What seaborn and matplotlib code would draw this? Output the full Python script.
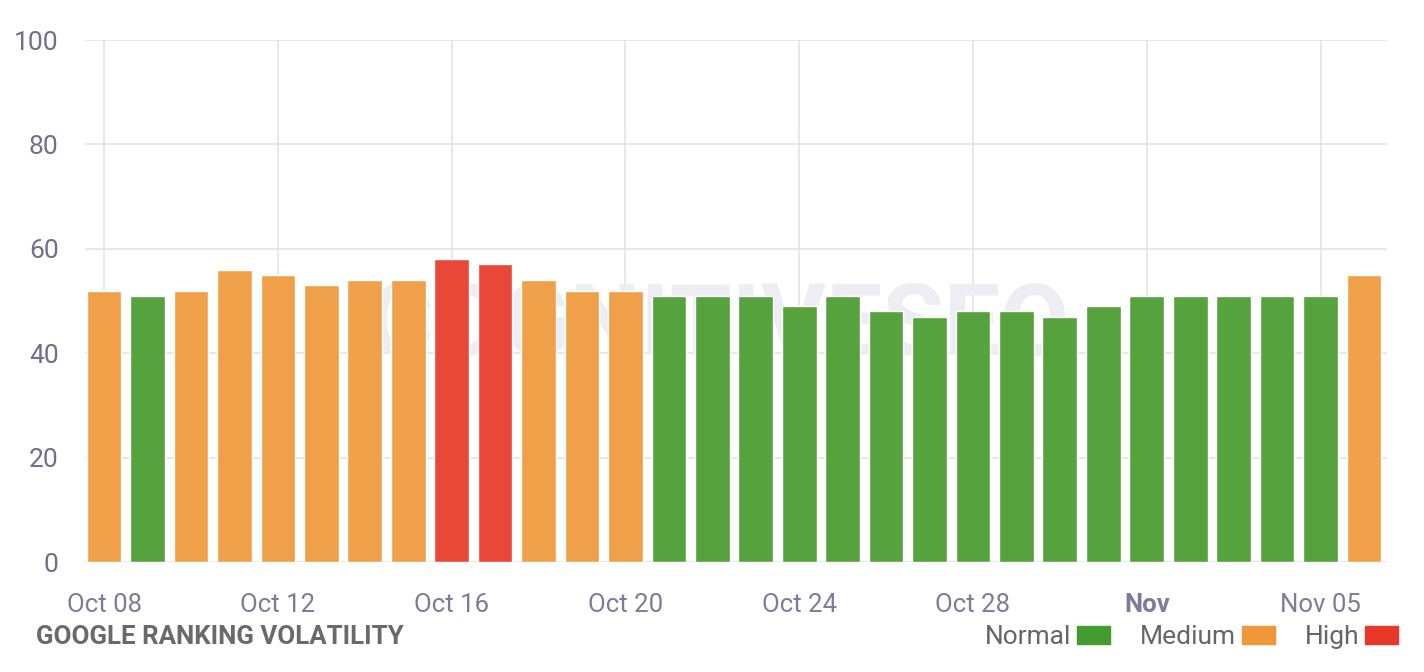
import matplotlib
matplotlib.use('Agg')
import matplotlib.pyplot as plt
import matplotlib.patches as mpatches
import seaborn as sns
import pandas as pd

sns.set_style('white')
plt.rcParams['font.family'] = ['Roboto', 'DejaVu Sans']

dates = ['Oct 08', 'Oct 09', 'Oct 10', 'Oct 11', 'Oct 12', 'Oct 13', 'Oct 14', 'Oct 15',
         'Oct 16', 'Oct 17', 'Oct 18', 'Oct 19', 'Oct 20', 'Oct 21', 'Oct 22', 'Oct 23',
         'Oct 24', 'Oct 25', 'Oct 26', 'Oct 27', 'Oct 28', 'Oct 29', 'Oct 30', 'Oct 31',
         'Nov 01', 'Nov 02', 'Nov 03', 'Nov 04', 'Nov 05', 'Nov 06']
values = [52, 51, 52, 56, 55, 53, 54, 54, 58, 57, 54, 52, 52, 51, 51, 51,
          49, 51, 48, 47, 48, 48, 47, 49, 51, 51, 51, 51, 51, 55]
levels = ['Medium', 'Normal', 'Medium', 'Medium', 'Medium', 'Medium', 'Medium', 'Medium',
          'High', 'High', 'Medium', 'Medium', 'Medium', 'Normal', 'Normal', 'Normal',
          'Normal', 'Normal', 'Normal', 'Normal', 'Normal', 'Normal', 'Normal', 'Normal',
          'Normal', 'Normal', 'Normal', 'Normal', 'Normal', 'Medium']
tick_labels = ['Oct 08', 'Oct 12', 'Oct 16', 'Oct 20', 'Oct 24', 'Oct 28', 'Nov', 'Nov 05']

bar_colors = {'Normal': '#55A23F', 'Medium': '#F0A048', 'High': '#E94838'}
legend_colors = {'Normal': '#449B2F', 'Medium': '#F0973A', 'High': '#E8382A'}

df = pd.DataFrame({'date': dates, 'value': values, 'level': levels})

fig = plt.figure(figsize=(14.24, 6.72), dpi=100)
ax = fig.add_axes([85 / 1424, 110 / 672, 1302 / 1424, 522 / 672])

sns.barplot(data=df, x='date', y='value', hue='level', palette=bar_colors,
            order=dates, dodge=False, width=0.8, saturation=1, legend=False,
            ax=ax, zorder=2)

# faint watermark behind the bars
ax.text(0.487, 0.45, 'COGNITIVESEO', transform=ax.transAxes, ha='center', va='center',
        fontsize=72, fontweight='bold', color='#EDEDF3', zorder=1)

ax.set_ylim(0, 100)
ax.set_xlim(-0.44, len(dates) - 0.47)
ax.set_yticks(range(0, 101, 20))
tick_pos = [dates.index(d) for d in ['Oct 08', 'Oct 12', 'Oct 16', 'Oct 20',
                                     'Oct 24', 'Oct 28', 'Nov 01', 'Nov 05']]
ax.set_xticks(tick_pos)
ax.set_xticklabels(tick_labels)
for lbl in ax.get_xticklabels():
    if lbl.get_text() == 'Nov':
        lbl.set_fontweight('bold')

ax.grid(True, color='#E3E3EA', linewidth=1.2, zorder=0)
ax.set_axisbelow(True)
for s in ax.spines.values():
    s.set_visible(False)
ax.tick_params(axis='y', length=0, pad=19, labelsize=19, labelcolor='#6F6F8C')
ax.tick_params(axis='x', length=0, pad=22, labelsize=18.5, labelcolor='#7C7C98')
ax.set_xlabel('')
ax.set_ylabel('')

fig.text(36 / 1424, 1 - 637 / 672, 'GOOGLE RANKING VOLATILITY', ha='left', va='center',
         fontsize=18.6, fontweight='bold', color='#6A6A6E')

handles = [mpatches.Patch(color=legend_colors[k], label=k) for k in ['Normal', 'Medium', 'High']]
fig.legend(handles=handles, loc='center right', bbox_to_anchor=(1411 / 1424, 1 - 637 / 672),
           ncol=3, frameon=False, fontsize=19, labelcolor='#666666',
           markerfirst=False, handlelength=1.25, handleheight=0.65,
           handletextpad=0.2, columnspacing=1.15, borderpad=0)

fig.savefig('out.png', dpi=100)
